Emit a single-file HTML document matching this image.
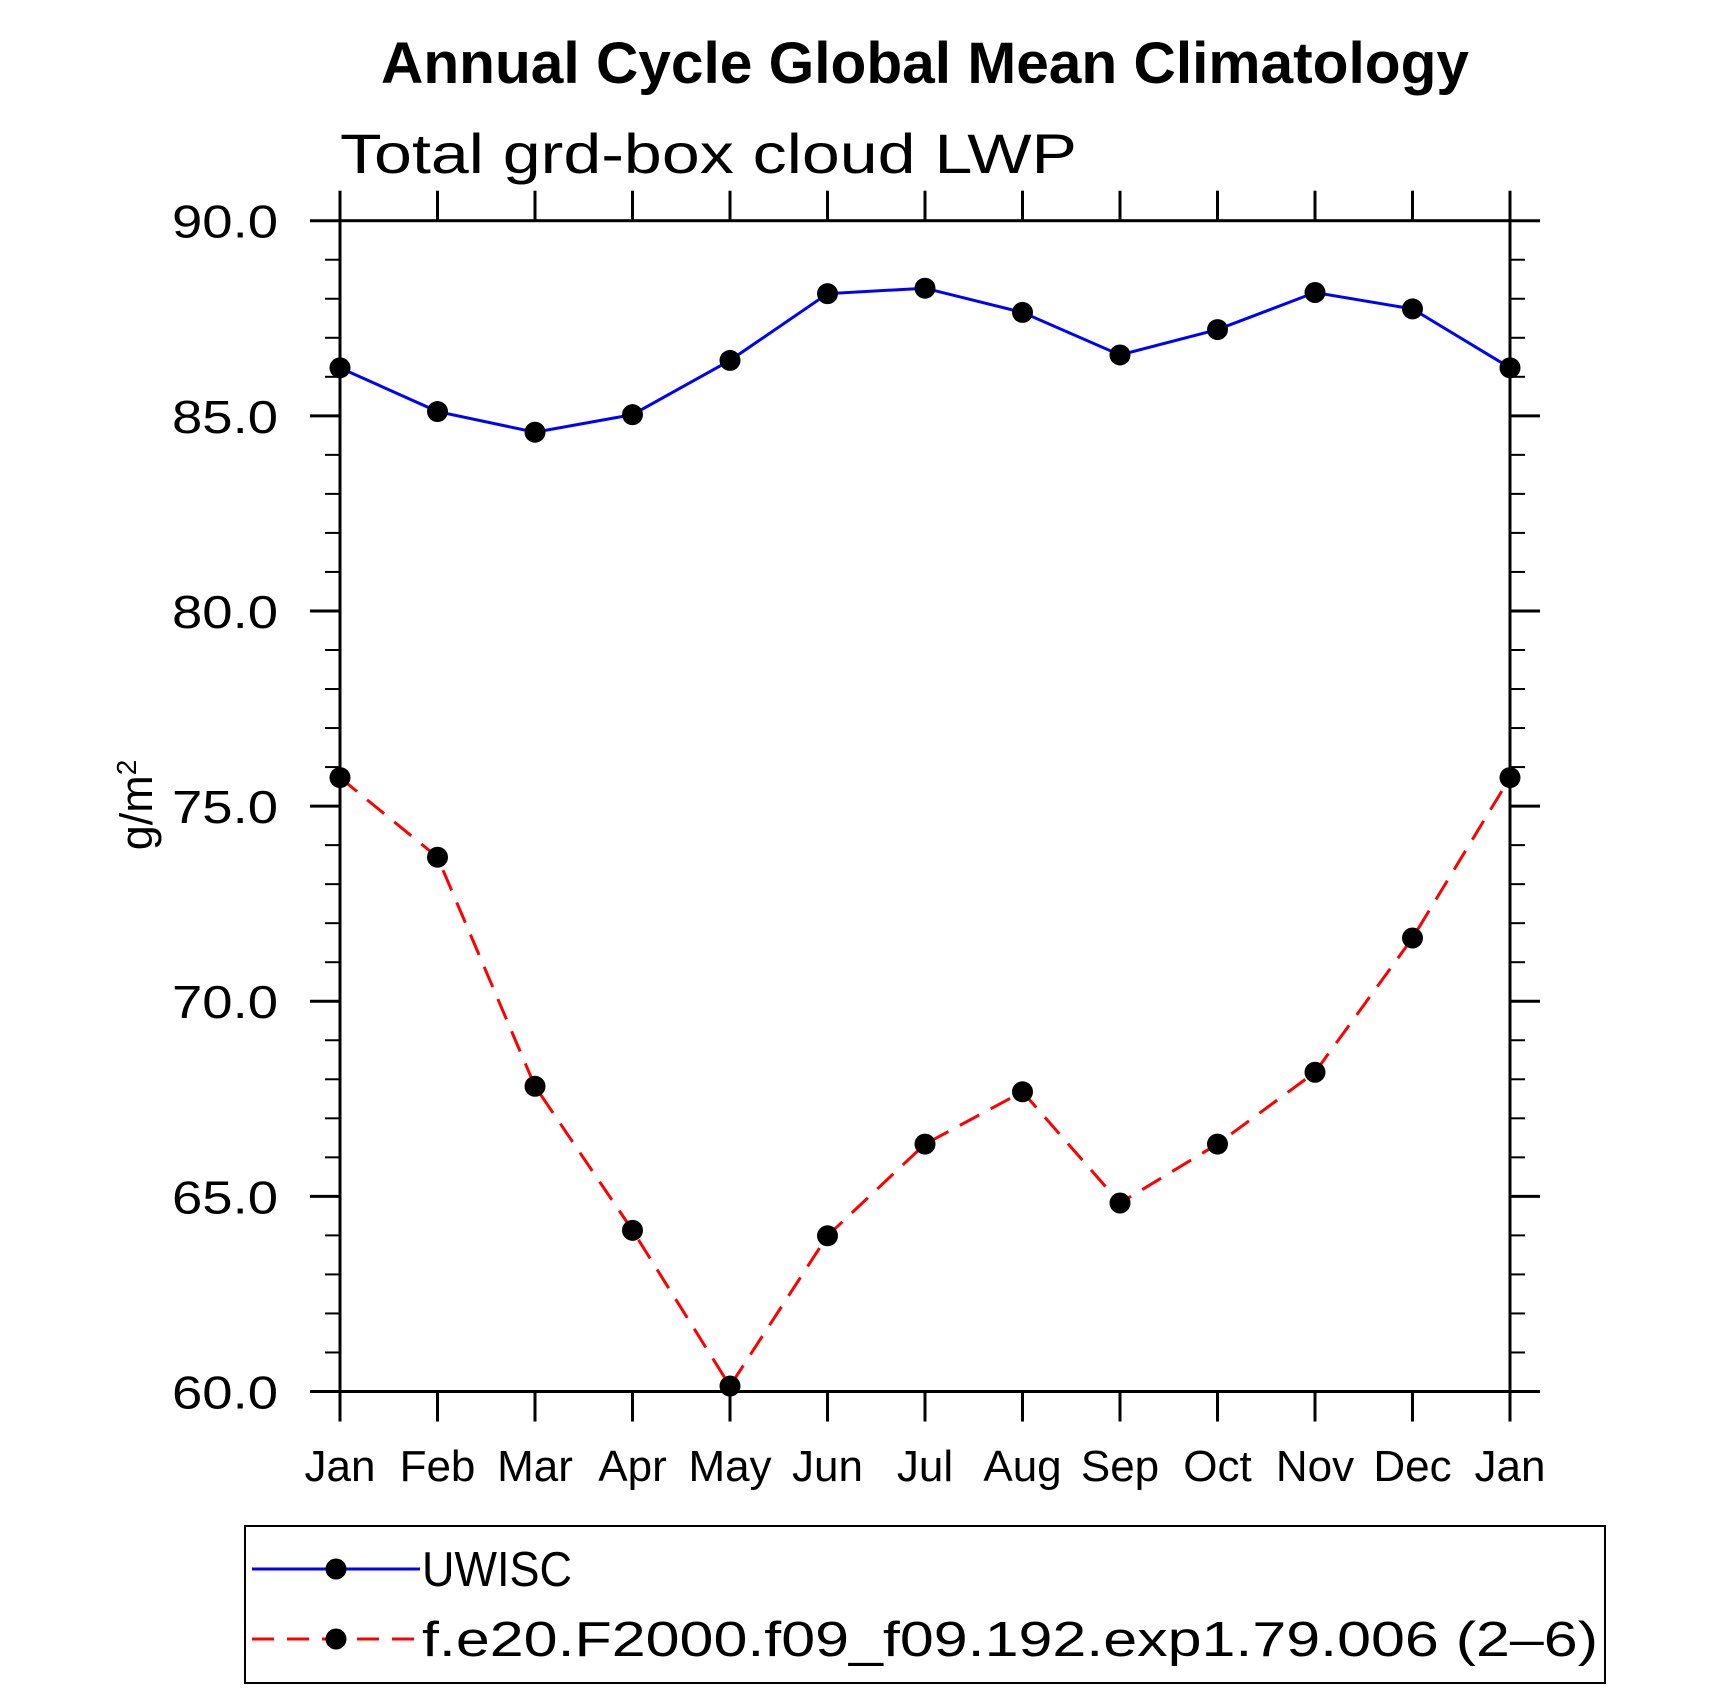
<!DOCTYPE html>
<html><head><meta charset="utf-8"><style>
html,body{margin:0;padding:0;background:#fff;}
svg text{font-family:"Liberation Sans",sans-serif;}
</style></head><body>
<svg id="chart" width="1710" height="1689" viewBox="0 0 1710 1689" xmlns="http://www.w3.org/2000/svg">
<text x="925" y="83" text-anchor="middle" font-size="58" font-weight="bold" textLength="1088" lengthAdjust="spacingAndGlyphs">Annual Cycle Global Mean Climatology</text>
<text x="340" y="173" font-size="56" textLength="737" lengthAdjust="spacingAndGlyphs">Total grd-box cloud LWP</text>
<text transform="translate(152,805) rotate(-90)" text-anchor="middle" font-size="45">g/m<tspan font-size="28" dy="-16">2</tspan></text>
<g id="axes"></g>
<g id="series"></g>
<rect x="245" y="1526" width="1360" height="157" fill="none" stroke="#000" stroke-width="2"/>
<line x1="252" y1="1569" x2="420" y2="1569" stroke="#0000ff" stroke-width="3"/>
<circle cx="336" cy="1569" r="10.5" fill="#000"/>
<text x="422" y="1586" font-size="49" textLength="150" lengthAdjust="spacingAndGlyphs">UWISC</text>
<line x1="252" y1="1639" x2="420" y2="1639" stroke="#ff0000" stroke-width="3" stroke-dasharray="22,13"/>
<circle cx="336" cy="1639" r="10.5" fill="#000"/>
<text x="422" y="1656" font-size="49" textLength="1176" lengthAdjust="spacingAndGlyphs">f.e20.F2000.f09_f09.192.exp1.79.006 (2–6)</text>
</svg>
<script>
const months = ["Jan","Feb","Mar","Apr","May","Jun","Jul","Aug","Sep","Oct","Nov","Dec","Jan"];
const uwiscValues = [86.23,85.11,84.58,85.03,86.42,88.13,88.27,87.65,86.56,87.21,88.16,87.74,86.23];
const modelValues = [75.73,73.69,67.82,64.13,60.14,63.99,66.34,67.68,64.83,66.34,68.18,71.62,75.73];
const yTicks = [60,65,70,75,80,85,90];
const yTickLabels = ["60.0","65.0","70.0","75.0","80.0","85.0","90.0"];

const NS="http://www.w3.org/2000/svg";
const L=340,R=1510,T=220.7,B=1391.5,YMIN=60,YMAX=90;
const xs=i=>L+(R-L)*i/(months.length-1);
const ys=v=>B-(B-T)*(v-YMIN)/(YMAX-YMIN);
function mk(tag,attrs,parent){const e=document.createElementNS(NS,tag);for(const k in attrs)e.setAttribute(k,attrs[k]);parent.appendChild(e);return e;}
const ax=document.getElementById('axes');
const S="#000";
const frame=mk('rect',{x:L,y:T,width:R-L,height:B-T,fill:'none',stroke:S,'stroke-width':3},ax);


for(let v=YMIN;v<=YMAX;v++){
  const major=(v%5===0);const len=major?30:15;const y=ys(v);
  const a=mk('line',{x1:L-len,y1:y,x2:L,y2:y,stroke:S,'stroke-width':major?3:2},ax);
  
  
  const b=mk('line',{x1:R,y1:y,x2:R+len,y2:y,stroke:S,'stroke-width':major?3:2},ax);
  
  
}
yTicks.forEach((v,i)=>{
  const t=mk('text',{x:278,y:ys(v)+17,'text-anchor':'end','font-size':46,textLength:106,lengthAdjust:'spacingAndGlyphs'},ax);
  t.textContent=yTickLabels[i];
  
  
});
months.forEach((m,i)=>{
  const x=xs(i);
  const a=mk('line',{x1:x,y1:T-30,x2:x,y2:T,stroke:S,'stroke-width':3},ax);
  
  
  const b=mk('line',{x1:x,y1:B,x2:x,y2:B+30,stroke:S,'stroke-width':3},ax);
  
  
  const t=mk('text',{x:x,y:1481,'text-anchor':'middle','font-size':44},ax);
  t.textContent=m;
  
  
});
const sg=document.getElementById('series');
function series(vals,color,dash,name){
  const pts=vals.map((v,i)=>xs(i)+','+ys(v)).join(' ');
  const attrs={points:pts,fill:'none',stroke:color,'stroke-width':3};
  if(dash)attrs['stroke-dasharray']=dash;
  const pl=mk('polyline',attrs,sg);
  
  
  vals.forEach((v,i)=>{
    const c=mk('circle',{cx:xs(i),cy:ys(v),r:10.5,fill:'#000'},sg);
    
    
  });
}
series(uwiscValues,'#0000ff',null,'uwisc');
series(modelValues,'#ff0000','22,13','model');
</script>
</body></html>
